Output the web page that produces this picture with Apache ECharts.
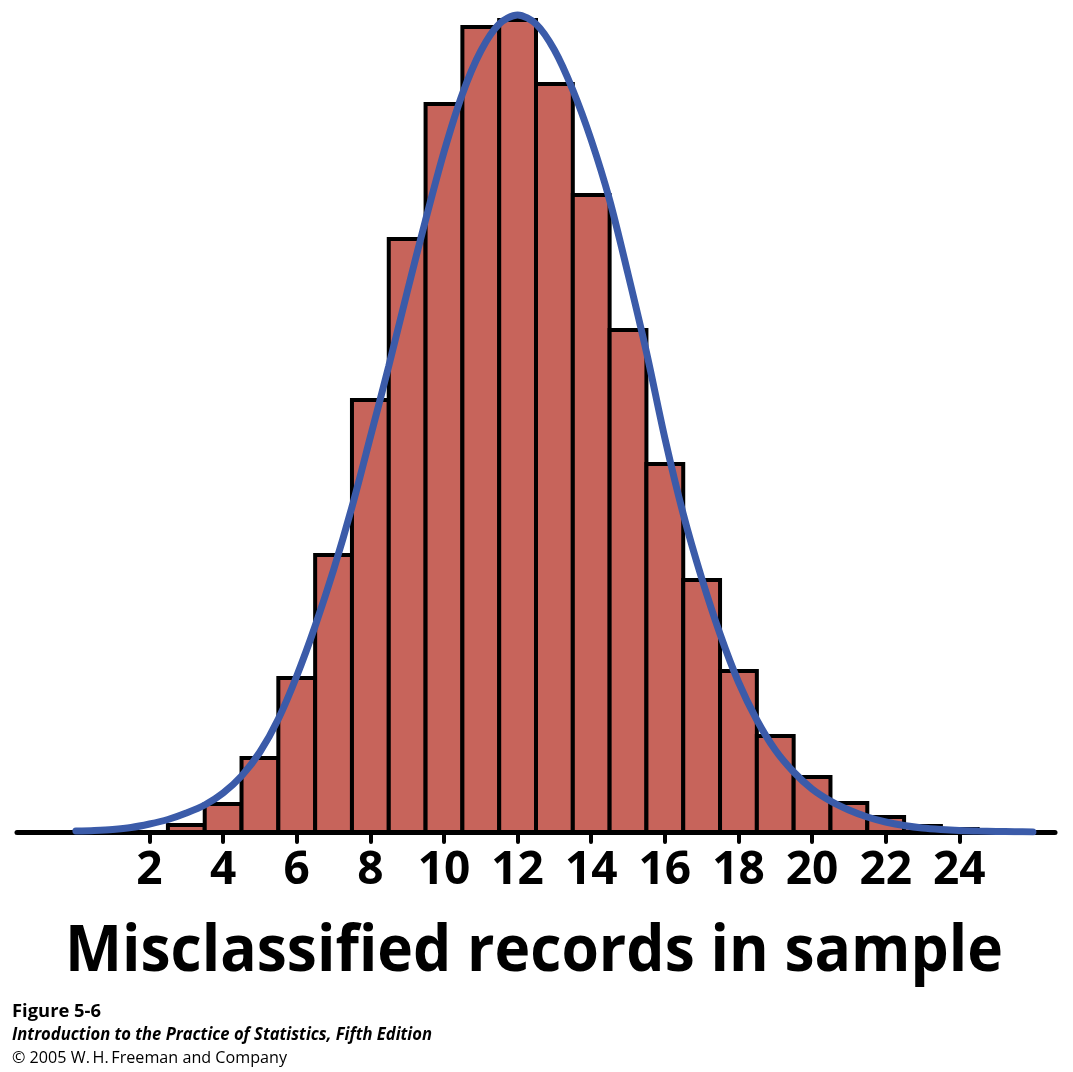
<!DOCTYPE html>
<html>
<head>
<meta charset="utf-8">
<script src="https://cdn.jsdelivr.net/npm/echarts@6/dist/echarts.min.js"></script>
<style>
html,body{margin:0;padding:0;background:#fff;}
#chart{width:1073px;height:1072px;}
</style>
</head>
<body>
<div id="chart"></div>
<script>
// Histogram: number of misclassified records (centre of each unit-wide bar) and its height
const barValues = [3, 4, 5, 6, 7, 8, 9, 10, 11, 12, 13, 14, 15, 16, 17, 18, 19, 20, 21, 22, 23, 24];
const barHeights = [7, 28, 74, 154, 277, 432, 593, 728, 805, 812, 748, 637, 502, 368, 252, 161, 96, 55, 29, 15, 6, 3];

// Normal curve at half-unit steps
const curveX = [0, 0.5, 1, 1.5, 2, 2.5, 3, 3.5, 4, 4.5, 5, 5.5, 6, 6.5, 7, 7.5, 8, 8.5, 9, 9.5, 10, 10.5, 11, 11.5, 12,
  12.5, 13, 13.5, 14, 14.5, 15, 15.5, 16, 16.5, 17, 17.5, 18, 18.5, 19, 19.5, 20, 20.5, 21, 21.5, 22, 22.5, 23, 23.5, 24, 24.5, 25, 25.5, 26];
const curveY = [1, 1.6, 2.6, 4.5, 8, 12.5, 19, 27, 39, 56, 80, 113, 156, 206, 262, 325, 395, 466, 540, 612, 680, 738, 781, 808, 817,
  808, 782, 742, 692, 632, 558, 480, 394, 318, 254, 198, 150, 112, 82, 60, 43, 31, 22, 15, 10, 6.5, 4, 2.5, 1.5, 1, 0.6, 0.3, 0.1];

const tickValues = [2, 4, 6, 8, 10, 12, 14, 16, 18, 20, 22, 24];
const axisTitle = 'Misclassified records in sample';
const footer1 = 'Figure 5-6';
const footer2 = 'Introduction to the Practice of Statistics, Fifth Edition';
const footer3 = '\u00A9 2005 W.\u2009H.\u2009Freeman and Company';

const FONT = '"Open Sans", "Noto Sans", sans-serif';
const mctx = document.createElement('canvas').getContext('2d');
function fitScale(text, font, target) {
  mctx.font = font;
  return target / mctx.measureText(text).width;
}

const chart = echarts.init(document.getElementById('chart'));
const barData = barValues.map((v, i) => [v, barHeights[i]]);
const curveData = curveX.map((v, i) => [v, curveY[i]]);

const titleFont = 'bold 64px ' + FONT;
const f1Font = 'bold 18px ' + FONT;
const f2Font = 'italic bold 17px ' + FONT;
const f3Font = '17px ' + FONT;

chart.setOption({
  animation: false,
  backgroundColor: '#ffffff',
  grid: { left: 17, right: 18, top: 12, bottom: 240 },
  xAxis: {
    type: 'value', min: -1.6, max: 26.6,
    splitLine: { show: false },
    axisLine: { show: true, onZero: true, lineStyle: { color: '#000', width: 5, cap: 'round' } },
    axisTick: { show: true, customValues: tickValues, length: 10, lineStyle: { color: '#000', width: 4, cap: 'round' } },
    axisLabel: {
      customValues: tickValues, margin: 16, color: '#000',
      fontFamily: FONT, fontWeight: 'bold', fontSize: 46
    }
  },
  yAxis: { type: 'value', min: 0, max: 820, show: false },
  series: [
    {
      type: 'custom', z: 3,
      data: barData,
      renderItem: function (params, api) {
        const x = api.value(0), y = api.value(1);
        const p0 = api.coord([x - 0.5, y]);
        const p1 = api.coord([x + 0.5, 0]);
        return {
          type: 'rect',
          shape: { x: p0[0], y: p0[1], width: p1[0] - p0[0], height: p1[1] - p0[1] },
          style: { fill: '#C7645B', stroke: '#000', lineWidth: 4 }
        };
      }
    },
    {
      type: 'line', z: 5, data: curveData, smooth: 0.3, showSymbol: false,
      lineStyle: { color: '#3B5BA9', width: 7, cap: 'round' }
    }
  ],
  graphic: [
    { type: 'text', z: 10, x: 534, y: 953,
      scaleX: fitScale(axisTitle, titleFont, 938),
      style: { text: axisTitle, font: titleFont, fill: '#000', align: 'center', verticalAlign: 'middle' } },
    { type: 'text', z: 10, x: 12, y: 1012,
      scaleX: fitScale(footer1, f1Font, 89),
      style: { text: footer1, font: f1Font, fill: '#000', align: 'left', verticalAlign: 'middle' } },
    { type: 'text', z: 10, x: 12, y: 1035,
      scaleX: fitScale(footer2, f2Font, 420),
      style: { text: footer2, font: f2Font, fill: '#000', align: 'left', verticalAlign: 'middle' } },
    { type: 'text', z: 10, x: 12, y: 1058,
      scaleX: fitScale(footer3, f3Font, 275),
      style: { text: footer3, font: f3Font, fill: '#000', align: 'left', verticalAlign: 'middle' } }
  ]
});
</script>
</body>
</html>
